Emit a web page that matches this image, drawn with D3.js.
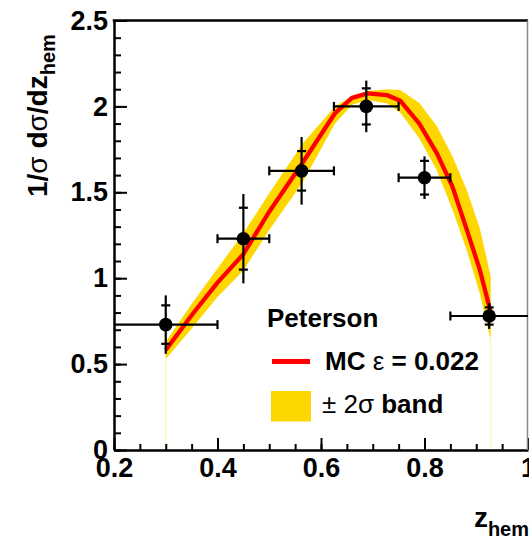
<!DOCTYPE html>
<html>
<head>
<meta charset="utf-8">
<script src="https://cdnjs.cloudflare.com/ajax/libs/d3/7.8.5/d3.min.js"></script>
<style>
  body { margin: 0; background: #fff; }
  svg { display: block; font-family: "Liberation Sans", Arial, Helvetica, sans-serif; font-weight: bold; }
  .axis path, .axis line { stroke: #000; }
  .axis text { fill: #000; font-size: 27px; font-family: "Liberation Sans", Arial, sans-serif; font-weight: bold; }
</style>
</head>
<body>
<div id="viz"></div>
<script>
// data bins (z_hem) and measured points
var zBins = [0.2, 0.4, 0.5, 0.625, 0.75, 0.85, 1.0];
var zData = [0.30, 0.45, 0.5625, 0.6875, 0.80, 0.925];
var yData = [0.73, 1.23, 1.625, 2.0, 1.585, 0.78];
var statErr = [0.112, 0.18, 0.115, 0.105, 0.098, 0.05];
var totErr = [0.17, 0.26, 0.197, 0.15, 0.124, 0.075];

// MC Peterson curve and its +-2 sigma band
var mcZ = [0.30, 0.353, 0.40, 0.45, 0.50, 0.565, 0.627, 0.66, 0.69, 0.727, 0.753, 0.79, 0.824, 0.854, 0.882, 0.907, 0.928];
var mcY = [0.582, 0.796, 0.974, 1.14, 1.387, 1.675, 1.96, 2.05, 2.076, 2.066, 2.033, 1.90, 1.727, 1.533, 1.28, 1.048, 0.80];
var bandHi = [0.63, 0.863, 1.057, 1.261, 1.494, 1.785, 2.0, 2.06, 2.09, 2.10, 2.095, 2.02, 1.885, 1.71, 1.51, 1.29, 1.01];
var bandLo = [0.53, 0.718, 0.89, 1.045, 1.28, 1.56, 1.90, 2.01, 2.037, 2.018, 1.965, 1.815, 1.625, 1.40, 1.16, 0.91, 0.64];

var xTicks = [0.2, 0.4, 0.6, 0.8, 1.0];
var yTicks = [0, 0.5, 1, 1.5, 2, 2.5];

var width = 529, height = 540;
var margin = { top: 20.5, right: 1, bottom: 90, left: 114 };
var w = width - margin.left - margin.right,
  h = height - margin.top - margin.bottom;

var svg = d3.select('#viz').append('svg')
  .attr('width', width)
  .attr('height', height);

var x = d3.scaleLinear().domain([0.2, 1.0]).range([0, w]);
var y = d3.scaleLinear().domain([0, 2.5]).range([h, 0]);

var chart = svg.append('g')
  .attr('transform', 'translate(' + margin.left + ',' + margin.top + ')');

// band
var mc = mcZ.map(function (z, i) {
  return { z: z, y: mcY[i], lo: bandLo[i], hi: bandHi[i] };
});

// thin pale lines down to zero at both band ends
[mc[0], mc[mc.length - 1]].forEach(function (d) {
  chart.append('line')
    .attr('x1', x(d.z)).attr('x2', x(d.z))
    .attr('y1', y(d.lo)).attr('y2', y(0))
    .attr('stroke', '#fff1a8')
    .attr('stroke-width', 1);
});

chart.append('path')
  .datum(mc)
  .attr('fill', '#ffd700')
  .attr('d', d3.area()
    .x(function (d) { return x(d.z); })
    .y0(function (d) { return y(d.lo); })
    .y1(function (d) { return y(d.hi); }));

chart.append('path')
  .datum(mc)
  .attr('fill', 'none')
  .attr('stroke', '#ff0000')
  .attr('stroke-width', 4.3)
  .attr('stroke-linejoin', 'round')
  .attr('d', d3.line()
    .x(function (d) { return x(d.z); })
    .y(function (d) { return y(d.y); }));

// axes, ticks drawn inwards like ROOT
var yMinor = d3.range(0, 2.51, 0.1);
var xMinor = d3.range(0.2, 1.001, 0.05);

chart.append('g').attr('class', 'axis')
  .call(d3.axisLeft(y).tickValues(yMinor).tickSize(-7).tickSizeOuter(0).tickFormat(''))
  .call(function (g) { g.select('.domain').remove(); })
  .selectAll('line').attr('stroke-width', 2);

chart.append('g').attr('class', 'axis')
  .attr('transform', 'translate(0,' + h + ')')
  .call(d3.axisBottom(x).tickValues(xMinor).tickSize(-6).tickSizeOuter(0).tickFormat(''))
  .call(function (g) { g.select('.domain').remove(); })
  .selectAll('line').attr('stroke-width', 2);

var yAxis = chart.append('g').attr('class', 'axis')
  .call(d3.axisLeft(y).tickValues(yTicks).tickSize(-13).tickSizeOuter(0).tickPadding(6)
    .tickFormat(function (d) { return d3.format('')(d); }));
yAxis.select('.domain').attr('stroke-width', 2.5);
yAxis.selectAll('line').attr('stroke-width', 2);

var xAxis = chart.append('g').attr('class', 'axis')
  .attr('transform', 'translate(0,' + h + ')')
  .call(d3.axisBottom(x).tickValues(xTicks).tickSize(-12).tickSizeOuter(0).tickPadding(8)
    .tickFormat(function (d) { return d3.format('')(d); }));
xAxis.select('.domain').attr('stroke-width', 2.5);
xAxis.selectAll('line').attr('stroke-width', 2);

// frame top + right
chart.append('line')
  .attr('x1', -1.25).attr('x2', w).attr('y1', 0).attr('y2', 0)
  .attr('stroke', '#000').attr('stroke-width', 2.5);
chart.append('line')
  .attr('x1', w - 0.5).attr('x2', w - 0.5).attr('y1', 0).attr('y2', h)
  .attr('stroke', '#888').attr('stroke-width', 1.5);

// data points with errors
var pts = zData.map(function (z, i) {
  return { z: z, y: yData[i], x0: zBins[i], x1: zBins[i + 1], s: statErr[i], t: totErr[i] };
});

var pg = chart.selectAll('g.pt').data(pts).enter()
  .append('g').attr('class', 'pt')
  .attr('stroke', '#000').attr('stroke-width', 2.2);

pg.append('line')
  .attr('x1', function (d) { return x(d.x0); })
  .attr('x2', function (d) { return x(d.x1); })
  .attr('y1', function (d) { return y(d.y); })
  .attr('y2', function (d) { return y(d.y); });
// x end caps
pg.each(function (d) {
  var g = d3.select(this);
  [d.x0, d.x1].forEach(function (v) {
    if (v <= 0.2 || v >= 1.0) return;
    g.append('line')
      .attr('x1', x(v)).attr('x2', x(v))
      .attr('y1', y(d.y) - 4.5).attr('y2', y(d.y) + 4.5);
  });
  // total error
  g.append('line')
    .attr('x1', x(d.z)).attr('x2', x(d.z))
    .attr('y1', y(d.y + d.t)).attr('y2', y(d.y - d.t));
  // stat error marks
  [d.y + d.s, d.y - d.s].forEach(function (v) {
    g.append('line')
      .attr('x1', x(d.z) - 4.5).attr('x2', x(d.z) + 4.5)
      .attr('y1', y(v)).attr('y2', y(v));
  });
});

pg.append('circle')
  .attr('cx', function (d) { return x(d.z); })
  .attr('cy', function (d) { return y(d.y); })
  .attr('r', 6.8)
  .attr('stroke', 'none')
  .attr('fill', '#000');

// legend
var leg = svg.append('g');
leg.append('text')
  .attr('x', 267).attr('y', 327)
  .style('font-size', '26px')
  .text('Peterson');
leg.append('line')
  .attr('x1', 272).attr('x2', 310).attr('y1', 361.5).attr('y2', 361.5)
  .attr('stroke', '#ff0000').attr('stroke-width', 5);
var t1 = leg.append('text')
  .attr('x', 325).attr('y', 369.5)
  .style('font-size', '26px');
t1.append('tspan').text('MC ');
t1.append('tspan').style('font-weight', 'normal').text('ε');
t1.append('tspan').text(' = 0.022');
leg.append('rect')
  .attr('x', 271).attr('y', 391).attr('width', 40).attr('height', 30.5)
  .attr('fill', '#ffd700');
var t2 = leg.append('text')
  .attr('x', 322).attr('y', 413)
  .style('font-size', '26px');
t2.append('tspan').style('font-weight', 'normal').text('± 2');
t2.append('tspan').style('font-weight', 'normal').text('σ');
t2.append('tspan').text(' band');

// axis titles
var yt = svg.append('text')
  .attr('transform', 'translate(47,197) rotate(-90)')
  .style('font-size', '28px');
yt.append('tspan').text('1/');
yt.append('tspan').style('font-weight', 'normal').text('σ');
yt.append('tspan').text(' d');
yt.append('tspan').style('font-weight', 'normal').text('σ');
yt.append('tspan').text('/dz');
yt.append('tspan').attr('dy', 8).style('font-size', '20px').text('hem');

var xt = svg.append('text')
  .attr('x', 529).attr('y', 527)
  .attr('text-anchor', 'end')
  .style('font-size', '28px');
xt.append('tspan').text('z');
xt.append('tspan').attr('dy', 9).style('font-size', '20px').text('hem');
</script>
</body>
</html>
